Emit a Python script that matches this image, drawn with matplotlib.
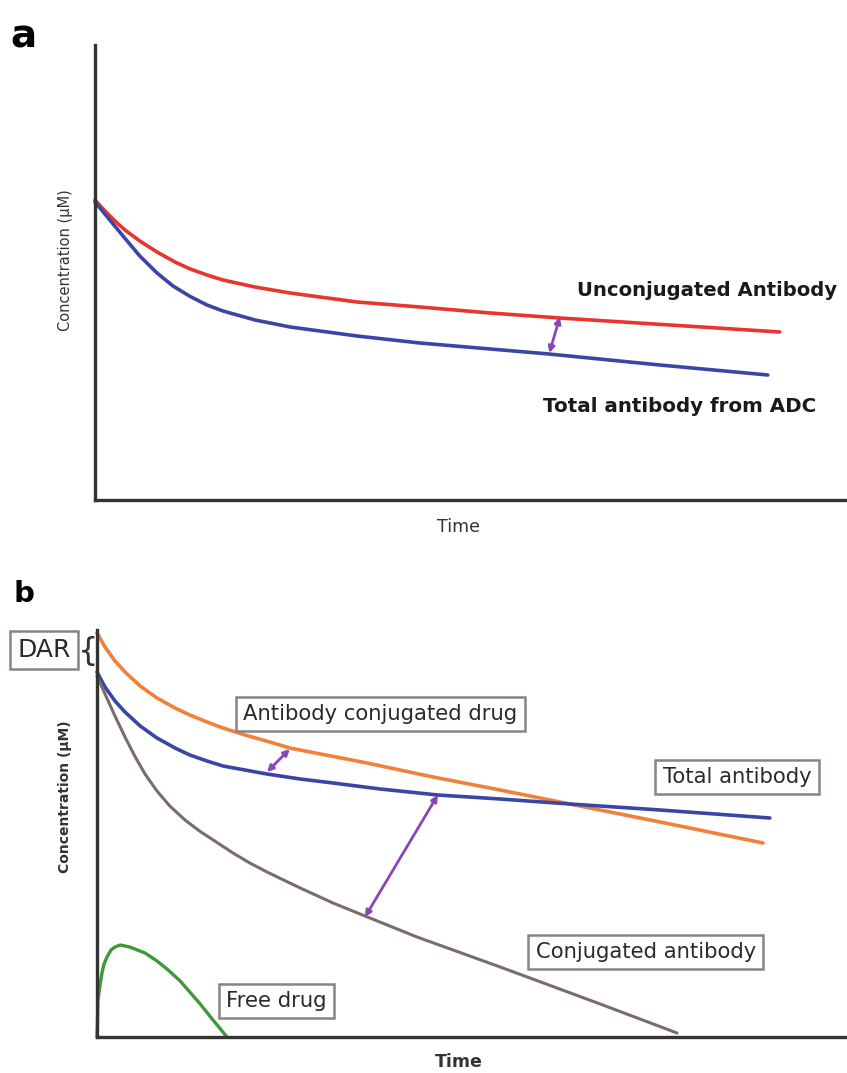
import matplotlib
matplotlib.use('Agg')
import matplotlib.pyplot as plt

plt.rcParams['font.family'] = ['DejaVu Sans']

# panel a: unconjugated antibody vs total antibody from ADC (arbitrary units)
t_red = [0, 1.25, 2.5, 3.75, 5.6, 7.75, 10, 11.9, 14, 16, 20, 24.4, 32.75, 40.6, 49.4, 58.1, 71.9, 85.6]
c_red = [60, 57.8, 55.8, 54, 51.8, 49.6, 47.6, 46.2, 45, 44, 42.6, 41.4, 39.6, 38.6, 37.4, 36.4, 35, 33.6]
t_blue = [0, 1.75, 3.5, 5.6, 7.75, 9.75, 11.9, 14, 16, 20, 24.4, 32.75, 40.6, 49.4, 56.75, 70.6, 84.1]
c_blue = [59.6, 56.2, 52.8, 48.8, 45.4, 42.8, 40.7, 39, 37.8, 36, 34.6, 32.8, 31.4, 30.2, 29.2, 27, 25]

# panel b
t_acd = [0, 1, 2.25, 3.5, 5.4, 7.5, 9.75, 11.6, 13.75, 15.75, 18.5, 21.6, 24.1, 33.75, 42, 50.4, 59.1, 70.4, 83.25]
c_acd = [80.8, 78, 75.2, 73, 70.2, 67.8, 65.8, 64.4, 63, 61.8, 60.4, 59, 57.8, 54.8, 52, 49.4, 46.6, 43, 38.8]
t_tab = [0, 1, 2.25, 3.5, 5.4, 7.5, 9.75, 11.6, 13.75, 15.75, 18.5, 21.25, 25.4, 29.5, 35.4, 42.6, 50.4, 59.1, 70.4, 84.1]
c_tab = [73, 70, 67.2, 65, 62.2, 59.8, 57.8, 56.4, 55.2, 54.2, 53.4, 52.6, 51.6, 50.8, 49.6, 48.4, 47.6, 46.6, 45.4, 43.8]
t_conj = [0, 1, 2.25, 3.5, 4.75, 6, 7.5, 9.1, 11, 12.9, 15, 17, 19.1, 21.25, 25.4, 29.5, 33.5, 40, 50.4, 62.9, 72.5]
c_conj = [72.2, 68.6, 64.2, 60, 56.1, 52.6, 49.2, 46.2, 43.4, 41.1, 38.9, 36.8, 34.8, 33, 29.8, 26.8, 24.2, 20, 14, 6.6, 0.8]
t_free = [0, 0.06, 0.12, 0.38, 0.62, 0.88, 1.25, 1.75, 2.25, 2.9, 4.1, 6, 7.5, 8.75, 10.4, 11.6, 12.9, 14.5, 16.25]
c_free = [0, 3.4, 7.4, 10.4, 12.8, 14.6, 16, 17.4, 18, 18.4, 18, 16.8, 15.2, 13.6, 11.2, 9, 6.6, 3.4, 0]

RED = '#e8352f'
BLUE = '#3b45a5'
ORANGE = '#f0803a'
GRAY = '#7a6c6c'
GREEN = '#3c9a3c'
PURPLE = '#8a45b8'
AXC = '#333333'
BOXC = '#8c8282'
TXT = '#2a2a2a'

fig = plt.figure(figsize=(8.47, 10.73), dpi=100)

def style(ax, xmax, ymax):
    ax.set_xlim(0, xmax)
    ax.set_ylim(0, ymax)
    for s in ['top', 'right']:
        ax.spines[s].set_visible(False)
    for s in ['left', 'bottom']:
        ax.spines[s].set_linewidth(2.4)
        ax.spines[s].set_color(AXC)
    ax.set_xticks([])
    ax.set_yticks([])

def dbl_arrow(ax, p0, p1):
    ax.annotate('', xy=p1, xytext=p0,
                arrowprops=dict(arrowstyle='<|-|>', color=PURPLE, lw=2,
                                mutation_scale=9, shrinkA=0, shrinkB=0))

# ---- panel a
axa = fig.add_axes([95/847, 1-500/1073, 752/847, 455/1073])
style(axa, 94, 91)
axa.plot(t_red, c_red, color=RED, lw=2.6, solid_capstyle='round', clip_on=False)
axa.plot(t_blue, c_blue, color=BLUE, lw=2.6, solid_capstyle='round', clip_on=False)
dbl_arrow(axa, (56.8, 29.4), (58.1, 36.6))
axa.text(76.5, 42, 'Unconjugated Antibody', fontsize=14.1, fontweight='bold',
         color='#1a1a1a', ha='center', va='center')
axa.text(73.1, 18.6, 'Total antibody from ADC', fontsize=14.3, fontweight='bold',
         color='#1a1a1a', ha='center', va='center')

fig.text(23/847, 1-36/1073, 'a', fontsize=28, fontweight='bold', ha='center', va='center')
fig.text(65/847, 1-260/1073, 'Concentration (\u03bcM)', fontsize=10.5, color='#333333',
         rotation=90, ha='center', va='center')
fig.text(458/847, 1-527/1073, 'Time', fontsize=12.5, color='#333333',
         ha='center', va='center')

# ---- panel b
axb = fig.add_axes([97/847, 1-1037/1073, 750/847, 407/1073])
style(axb, 93.75, 81.4)
axb.plot(t_acd, c_acd, color=ORANGE, lw=2.6, solid_capstyle='round', clip_on=False)
axb.plot(t_tab, c_tab, color=BLUE, lw=2.6, solid_capstyle='round', clip_on=False)
axb.plot(t_conj, c_conj, color=GRAY, lw=2.2, solid_capstyle='round', clip_on=False)
axb.plot(t_free, c_free, color=GREEN, lw=2.4, solid_capstyle='round', clip_on=False)
dbl_arrow(axb, (21.25, 53), (24.1, 57.6))
dbl_arrow(axb, (33.5, 24), (42.6, 48.4))

box = dict(boxstyle='square,pad=0.35', fc='white', ec=BOXC, lw=1.8)
axb.text(35.4, 64.6, 'Antibody conjugated drug', fontsize=15.2, color=TXT,
         ha='center', va='center', bbox=box)
axb.text(80, 52, 'Total antibody', fontsize=15.2, color=TXT,
         ha='center', va='center', bbox=box)
axb.text(68.6, 17, 'Conjugated antibody', fontsize=15.2, color=TXT,
         ha='center', va='center', bbox=box)
axb.text(22.4, 7.2, 'Free drug', fontsize=15.2, color=TXT,
         ha='center', va='center', bbox=box)

fig.text(24/847, 1-594/1073, 'b', fontsize=21, fontweight='bold', ha='center', va='center')
fig.text(44/847, 1-650/1073, 'DAR', fontsize=18, color=TXT, ha='center', va='center',
         bbox=dict(boxstyle='square,pad=0.28', fc='white', ec=BOXC, lw=1.8))
fig.text(88/847, 1-651/1073, '{', fontsize=23, color='#333333',
         ha='center', va='center')
fig.text(65/847, 1-797/1073, 'Concentration (\u03bcM)', fontsize=10, fontweight='bold',
         color='#333333', rotation=90, ha='center', va='center')
fig.text(459/847, 1-1062/1073, 'Time', fontsize=12.5, fontweight='bold', color='#333333',
         ha='center', va='center')

fig.savefig('out.png', dpi=100, facecolor='white')
